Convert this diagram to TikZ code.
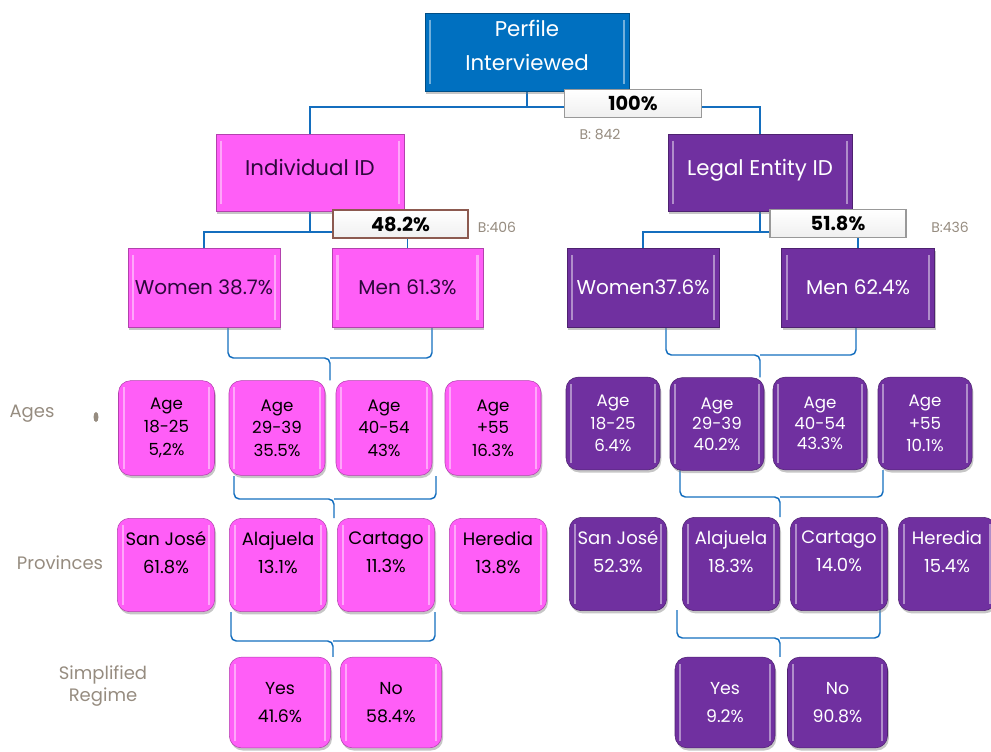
\documentclass[tikz,border=0pt]{standalone}
\usepackage{fontspec}
\setmainfont{Poppins}
\usepackage{tikz}
\usetikzlibrary{shadows, positioning}

\definecolor{boxblue}{RGB}{0,112,192}
\definecolor{boxpink}{RGB}{255,94,247}
\definecolor{boxpurple}{RGB}{112,48,160}
\definecolor{linkblue}{RGB}{20,110,190}
\definecolor{pinktext}{RGB}{45,8,60}
\definecolor{labelgray}{RGB}{150,140,128}
\definecolor{pctframe}{RGB}{140,90,80}

\pgfdeclarelayer{background}
\pgfsetlayers{background,main}

\tikzset{
  bevel/.style={drop shadow={opacity=0.45, shadow xshift=1pt, shadow yshift=-2pt},
    path picture={
      \draw[white, opacity=0.45, line width=1.6pt]
        ([xshift=4pt,yshift=-5pt]path picture bounding box.north west) --
        ([xshift=4pt,yshift=5pt]path picture bounding box.south west);
      \draw[white, opacity=0.45, line width=1.6pt]
        ([xshift=-4pt,yshift=-5pt]path picture bounding box.north east) --
        ([xshift=-4pt,yshift=5pt]path picture bounding box.south east);}},
  headbox/.style={bevel, fill=#1, draw=#1!70!black, line width=0.4pt,
    align=center, inner sep=2pt},
  pinkbox/.style={bevel, fill=boxpink, draw=boxpink!70!black, line width=0.4pt,
    rounded corners=9pt, align=center, text=black, inner sep=1pt},
  purplebox/.style={bevel, fill=boxpurple, draw=boxpurple!70!black, line width=0.4pt,
    rounded corners=9pt, align=center, text=white, inner sep=1pt},
  pctbox/.style={draw=gray!80, line width=0.8pt, top color=white, bottom color=gray!12,
    minimum width=102pt, minimum height=20.5pt, inner sep=0pt,
    font=\fontsize{14.5}{16}\selectfont\bfseries},
  link/.style={draw=linkblue, line width=1.1pt},
  brace/.style={link, rounded corners=4pt},
  note/.style={text=labelgray, font=\fontsize{10.5}{12}\selectfont},
  rowlabel/.style={text=labelgray, align=center, font=\fontsize{13.5}{17}\selectfont},
  big/.style={font=\fontsize{16}{25.5}\selectfont},
  mid/.style={font=\fontsize{15}{18}\selectfont},
  agebox/.style={minimum width=72pt, minimum height=71pt,
    font=\fontsize{12.5}{17}\selectfont},
  provbox/.style={minimum width=73pt, minimum height=70pt,
    font=\fontsize{13.5}{21}\selectfont},
  ynbox/.style={minimum width=76pt, minimum height=68pt,
    font=\fontsize{13}{21}\selectfont}
}

\begin{document}
\begin{tikzpicture}[x=0.75pt,y=0.75pt,yscale=-1,xscale=1]
\useasboundingbox (0,0) rectangle (991,751);

% Top of the tree
\node[headbox=boxblue, text=white, big, minimum width=153pt, minimum height=58.5pt]
  (top) at (527,52) {Perfile\\Interviewed\\[-16pt]};
\node[headbox=boxpink, text=pinktext, big, minimum width=141pt, minimum height=57.75pt]
  (ind) at (310,172.5) {Individual ID\\[-18pt]};
\node[headbox=boxpurple, text=white, big, minimum width=138pt, minimum height=57.75pt]
  (leg) at (760,172.5) {Legal Entity ID\\[-18pt]};

% Gender
\node[headbox=boxpink, text=pinktext, mid, minimum width=114pt, minimum height=59pt]
  (w1) at (204,287.5) {Women 38.7\%};
\node[headbox=boxpink, text=pinktext, mid, minimum width=113pt, minimum height=59pt]
  (m1) at (407.5,287.5) {Men 61.3\%};
\node[headbox=boxpurple, text=white, mid, minimum width=114pt, minimum height=59pt]
  (w2) at (643,287.5) {Women37.6\%};
\node[headbox=boxpurple, text=white, mid, minimum width=115pt, minimum height=59pt]
  (m2) at (858,287.5) {Men 62.4\%};

% Ages
\node[pinkbox, agebox] (a1) at (166.5,428) {Age\\18-25\\5,2\%};
\node[pinkbox, agebox] (a2) at (277,428) {Age\\29-39\\35.5\%};
\node[pinkbox, agebox] (a3) at (384,428) {Age\\40-54\\43\%};
\node[pinkbox, agebox] (a4) at (493,428) {Age\\+55\\16.3\%};
\node[purplebox, agebox, minimum width=70.5pt, minimum height=69.5pt]
  (b1) at (613,423.5) {Age\\18-25\\6.4\%};
\node[purplebox, agebox, minimum width=70.5pt, minimum height=69.5pt,
  font=\fontsize{12.5}{15.5}\selectfont] (b2) at (717,424) {Age\\29-39\\40.2\%};
\node[purplebox, agebox, minimum width=70.5pt, minimum height=69.5pt,
  font=\fontsize{12.5}{15.5}\selectfont] (b3) at (820,423.5) {Age\\40-54\\43.3\%};
\node[purplebox, agebox, minimum width=70.5pt, minimum height=69.5pt]
  (b4) at (925,423.5) {Age\\+55\\10.1\%};

% Provinces
\node[pinkbox, provbox] (p1) at (166,565) {San José\\61.8\%\\[-2pt]};
\node[pinkbox, provbox] (p2) at (278,565) {Alajuela\\13.1\%\\[-2pt]};
\node[pinkbox, provbox] (p3) at (386,565) {Cartago\\11.3\%\\[-2pt]};
\node[pinkbox, provbox] (p4) at (498,565) {Heredia\\13.8\%\\[-2pt]};
\node[purplebox, provbox] (q1) at (618,564) {San José\\52.3\%\\[-2pt]};
\node[purplebox, provbox] (q2) at (731,564) {Alajuela\\18.3\%\\[-2pt]};
\node[purplebox, provbox] (q3) at (839,564) {Cartago\\14.0\%\\[-2pt]};
\node[purplebox, provbox] (q4) at (947,564) {Heredia\\15.4\%\\[-2pt]};

% Simplified regime
\node[pinkbox, ynbox] (y1) at (280,702.5) {Yes\\41.6\%};
\node[pinkbox, ynbox] (n1) at (391,702.5) {No\\58.4\%};
\node[purplebox, ynbox, minimum width=75pt] (y2) at (725,702.5) {Yes\\9.2\%};
\node[purplebox, ynbox, minimum width=75pt] (n2) at (837.5,702.5) {No\\90.8\%};

% Row labels
\node[rowlabel] (lages) at (32,414) {Ages};
\fill[labelgray] (96,417) ellipse (2.5 and 5);
\node[rowlabel] (lprov) at (60,563) {Provinces};
\node[rowlabel] (lreg) at (103,686) {Simplified\\Regime};

% Junctions of the tree
\coordinate (j0) at (527,107);
\coordinate (j1) at (310,232);
\coordinate (j2) at (760,232);
% Brace points
\coordinate (g1l) at (228,327); \coordinate (g1r) at (432,327); \coordinate (g1m) at (330,358);
\coordinate (g2l) at (666,327); \coordinate (g2r) at (856,327); \coordinate (g2m) at (760,355);
\coordinate (e1l) at (234,476); \coordinate (e1r) at (436,476); \coordinate (e1m) at (334,499);
\coordinate (e2l) at (680,470); \coordinate (e2r) at (883,470); \coordinate (e2m) at (780,497);
\coordinate (r1l) at (231,612); \coordinate (r1r) at (435,612); \coordinate (r1m) at (333,641);
\coordinate (r2l) at (677,610); \coordinate (r2r) at (880,610); \coordinate (r2m) at (780,638);

\begin{pgfonlayer}{background}
\draw[link] (top.south) -- (j0);
\draw[link] (ind.north) |- (j0) -| (leg.north);
\draw[link] (ind.south) -- (j1);
\draw[link] (w1.north) |- (j1) -| (m1.north);
\draw[link] (leg.south) -- (j2);
\draw[link] (w2.north) |- (j2) -| (m2.north);
% braces
\draw[brace] (g1l) |- (g1m) -- (g1m |- a2.north);
\draw[brace] (g1r) |- (g1m);
\draw[brace] (g2l) |- (g2m) -- (g2m |- b2.north);
\draw[brace] (g2r) |- (g2m);
\draw[brace] (e1l) |- (e1m) -- (e1m |- p2.north);
\draw[brace] (e1r) |- (e1m);
\draw[brace] (e2l) |- (e2m) -- (e2m |- q2.north);
\draw[brace] (e2r) |- (e2m);
\draw[brace] (r1l) |- (r1m) -- (r1m |- y1.north);
\draw[brace] (r1r) |- (r1m);
\draw[brace] (r2l) |- (r2m) -- (r2m |- y2.north);
\draw[brace] (r2r) |- (r2m);
\end{pgfonlayer}

% Shares
\node[pctbox, minimum width=102.75pt] (s100) at (633,103.5) {100\%};
\node[pctbox, draw=pctframe, minimum width=101.25pt, minimum height=21pt]
  (s48) at (400.5,224) {48.2\%};
\node[pctbox] (s52) at (838,223.5) {51.8\%};
\node[note] (n842) at (600,134) {B: 842};
\node[note] (n406) at (497,227) {B:406};
\node[note] (n436) at (950,227) {B:436};

\end{tikzpicture}
\end{document}
